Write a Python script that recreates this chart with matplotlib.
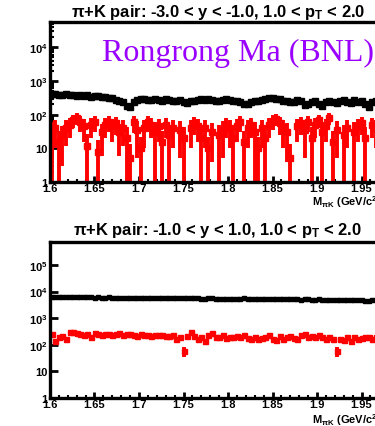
import numpy as np
import matplotlib
matplotlib.use("Agg")
import matplotlib.pyplot as plt
from matplotlib.ticker import FixedLocator, MultipleLocator, LogLocator, NullFormatter

# pi+K invariant mass bins, 4 MeV wide, from 1.6 to 2.0 GeV/c^2
bin_lo = 1.6
bin_w = 0.004

# forward rapidity (-3 < y < -1): same-event pairs and background-subtracted signal
fwd_total = [420, 400, 390, 380, 400, 370, 380, 360, 390, 350,
             370, 340, 360, 350, 330, 340, 320, 310, 280, 260,
             240, 180, 170, 230, 280, 300, 290, 280, 270, 300,
             280, 260, 290, 270, 250, 260, 270, 230, 220, 250,
             260, 280, 300, 280, 290, 270, 250, 260, 280, 300,
             270, 260, 250, 240, 200, 210, 240, 260, 250, 270,
             300, 310, 320, 300, 290, 260, 250, 230, 240, 280,
             250, 190, 200, 230, 250, 200, 180, 230, 260, 240,
             220, 250, 270, 230, 220, 280, 240, 260, 210, 170,
             230, 260, 280, 250, 240, 260, 250, 240, 230, 250]
fwd_signal = [30, 40, 15, 25, 40, 50, 70, 80, 60, 45,
              12, 50, 60, 8, 30, 50, 60, 45, 55, 30,
              40, 20, 5, 60, 35, 10, 40, 60, 50, 30,
              45, 15, 50, 25, 40, 0, 35, 20, 0, 40,
              55, 45, 20, 40, 10, 30, 0, 25, 35, 50,
              40, 20, 45, 60, 15, 40, 50, 30, 10, 40,
              20, 50, 65, 75, 55, 40, 30, 5, 0, 45,
              55, 35, 60, 20, 50, 70, 30, 45, 80, 15,
              35, 0, 25, 40, 0, 30, 45, 55, 20, 0,
              50, 40, 30, 20, 45, 35, 25, 50, 40, 30]
fwd_signal_err = [32, 30, 18, 22, 28, 30, 30, 30, 30, 30,
                  14, 30, 30, 10, 24, 30, 30, 30, 30, 24,
                  28, 22, 8, 32, 30, 12, 30, 30, 30, 30,
                  30, 18, 30, 24, 30, 0, 30, 22, 0, 30,
                  30, 30, 22, 30, 12, 26, 0, 24, 30, 30,
                  30, 22, 30, 30, 18, 30, 30, 30, 12, 30,
                  22, 30, 30, 30, 30, 30, 26, 8, 0, 30,
                  30, 30, 30, 22, 30, 30, 30, 30, 30, 18,
                  30, 0, 24, 30, 0, 30, 30, 30, 22, 0,
                  30, 30, 30, 22, 30, 30, 24, 30, 30, 30]

# mid rapidity (-1 < y < 1)
mid_total = [6200, 6100, 6100, 6000, 6100, 6100, 6000, 6000, 6100, 6000,
             6100, 6000, 5900, 6000, 5900, 5900, 6000, 5900, 5800, 5900,
             5800, 5800, 5700, 5700, 5800, 5700, 5600, 5700, 5700, 5600,
             5600, 5700, 5800, 5600, 5500, 5500, 5600, 5500, 5500, 5600,
             5500, 5500, 5400, 5400, 5500, 5500, 5400, 5300, 5400, 5300,
             5400, 5300, 5300, 5400, 5500, 5300, 5300, 5200, 5300, 5200,
             5200, 5300, 5200, 5100, 5200, 5200, 5100, 5200, 5100, 5100,
             5000, 5100, 5100, 5000, 5000, 5100, 5000, 4900, 5000, 4900,
             4900, 5000, 4900, 4800, 4900, 4800, 4800, 4900, 4600, 4500,
             4700, 4700, 4600, 4600, 4700, 4600, 4500, 4600, 4500, 4500]
mid_signal = [250, 140, 190, 210, 170, 290, 310, 280, 260, 230,
              250, 190, 270, 260, 240, 250, 260, 230, 250, 270,
              240, 250, 260, 230, 220, 250, 240, 230, 220, 230,
              240, 230, 220, 210, 230, 160, 190, 60, 210, 290,
              220, 170, 200, 140, 240, 280, 190, 200, 230, 180,
              190, 200, 210, 190, 230, 180, 170, 200, 160, 180,
              200, 230, 170, 150, 210, 160, 190, 220, 180, 160,
              230, 250, 200, 210, 190, 240, 190, 170, 200, 160,
              60, 170, 150, 190, 140, 200, 160, 180, 190, 200,
              170, 190, 200, 210, 190, 180, 200, 170, 150, 180]
mid_signal_err = [30, 25, 25, 25, 25, 30, 30, 30, 30, 25,
                  25, 25, 30, 30, 25, 25, 30, 25, 25, 30,
                  25, 25, 30, 25, 25, 25, 25, 25, 25, 25,
                  25, 25, 25, 25, 25, 25, 25, 25, 25, 25,
                  25, 25, 25, 25, 25, 30, 25, 25, 25, 25,
                  25, 25, 25, 25, 25, 25, 25, 25, 25, 25,
                  25, 25, 25, 25, 25, 25, 25, 25, 25, 25,
                  25, 25, 25, 25, 25, 25, 25, 25, 25, 25,
                  25, 25, 25, 25, 25, 25, 25, 25, 25, 25,
                  25, 25, 25, 25, 25, 25, 25, 25, 25, 25]

x_ticks = [1.6, 1.65, 1.7, 1.75, 1.8, 1.85, 1.9, 1.95, 2.0]
x_tick_labels = ["1.6", "1.65", "1.7", "1.75", "1.8", "1.85", "1.9", "1.95", "2"]

titles = [r"$\pi$+K pair: -3.0 < y < -1.0, 1.0 < p$_{\mathregular{T}}$ < 2.0",
          r"$\pi$+K pair: -1.0 < y < 1.0, 1.0 < p$_{\mathregular{T}}$ < 2.0"]

W, H = 375, 427
fig = plt.figure(figsize=(W / 100, H / 100), dpi=100)
plt.rcParams["font.family"] = ["Liberation Sans", "DejaVu Sans"]
plt.rcParams["mathtext.fontset"] = "custom"
plt.rcParams["mathtext.rm"] = "Liberation Sans:bold"
plt.rcParams["mathtext.it"] = "Liberation Sans:bold"


def px_axes(left, top, right, bottom):
    return fig.add_axes([left / W, 1 - bottom / H, (right - left) / W, (bottom - top) / H])


def log_label(v):
    if v == 1:
        return "1"
    if v == 10:
        return "10"
    return r"$\mathregular{10^{%d}}$" % round(np.log10(v))


def style_axes(ax, ymax, ylabels):
    ax.set_xlim(1.6, 2.0)
    ax.set_yscale("log", nonpositive="clip")
    ax.set_ylim(1, ymax)
    ax.set_xticks(x_ticks)
    ax.set_xticklabels(x_tick_labels, fontsize=8, fontweight="bold")
    ax.xaxis.set_minor_locator(MultipleLocator(0.01))
    ax.yaxis.set_major_locator(FixedLocator(ylabels))
    ax.set_yticklabels([log_label(v) for v in ylabels], fontsize=8, fontweight="bold")
    ax.yaxis.set_minor_locator(LogLocator(base=10, subs=np.arange(2, 10)))
    ax.yaxis.set_minor_formatter(NullFormatter())
    ax.tick_params(which="major", direction="in", length=6, width=2, pad=2)
    ax.tick_params(which="minor", direction="in", length=3, width=1.5)
    ax.tick_params(axis="x", which="major", length=4, pad=1)
    ax.tick_params(axis="x", which="minor", length=2.5)
    for s in ax.spines.values():
        s.set_linewidth(2.4)


def draw_panel(ax, total, signal, signal_err, total_ms, total_ew, sig_ms):
    centers = bin_lo + bin_w * (np.arange(len(total)) + 0.5)
    total = np.array(total, dtype=float)
    ax.errorbar(centers, total, xerr=bin_w / 2, yerr=np.sqrt(total), fmt="s",
                color="black", ms=total_ms, elinewidth=total_ew, capsize=0, zorder=3)
    signal = np.array(signal, dtype=float)
    signal_err = np.array(signal_err, dtype=float)
    keep = signal > 0
    ax.errorbar(centers[keep], signal[keep], xerr=bin_w / 2, yerr=signal_err[keep],
                fmt="s", color="red", ms=sig_ms, elinewidth=2.8, capsize=0, zorder=2)


# top panel: forward rapidity
ax1 = px_axes(50, 23, 406, 183)
style_axes(ax1, 5.6e4, [1, 10, 1e2, 1e3, 1e4])
draw_panel(ax1, fwd_total, fwd_signal, fwd_signal_err, 4.0, 2.6, 4.2)

# bottom panel: mid rapidity
ax2 = px_axes(50, 243, 406, 399)
style_axes(ax2, 7.3e5, [1, 10, 1e2, 1e3, 1e4, 1e5])
draw_panel(ax2, mid_total, mid_signal, mid_signal_err, 2.4, 2.0, 3.6)

fig.text(71 / W, 1 - 12 / H, titles[0], fontsize=11.9, fontweight="bold", va="center", ha="left")
fig.text(73 / W, 1 - 230 / H, titles[1], fontsize=11.9, fontweight="bold", va="center", ha="left")

xlab = r"M$_{\pi\mathregular{K}}$ (GeV/c$^{\mathregular{2}}$)"
fig.text(312 / W, 1 - 202 / H, xlab, fontsize=8, fontweight="bold", va="center", ha="left")
fig.text(312 / W, 1 - 420 / H, xlab, fontsize=8, fontweight="bold", va="center", ha="left")

fig.text(102 / W, 1 - 53 / H, "Rongrong Ma (BNL)", fontsize=23, color="#9a00ff",
         family="Liberation Serif", va="center", ha="left", zorder=5)

fig.savefig("out.png", dpi=100)
